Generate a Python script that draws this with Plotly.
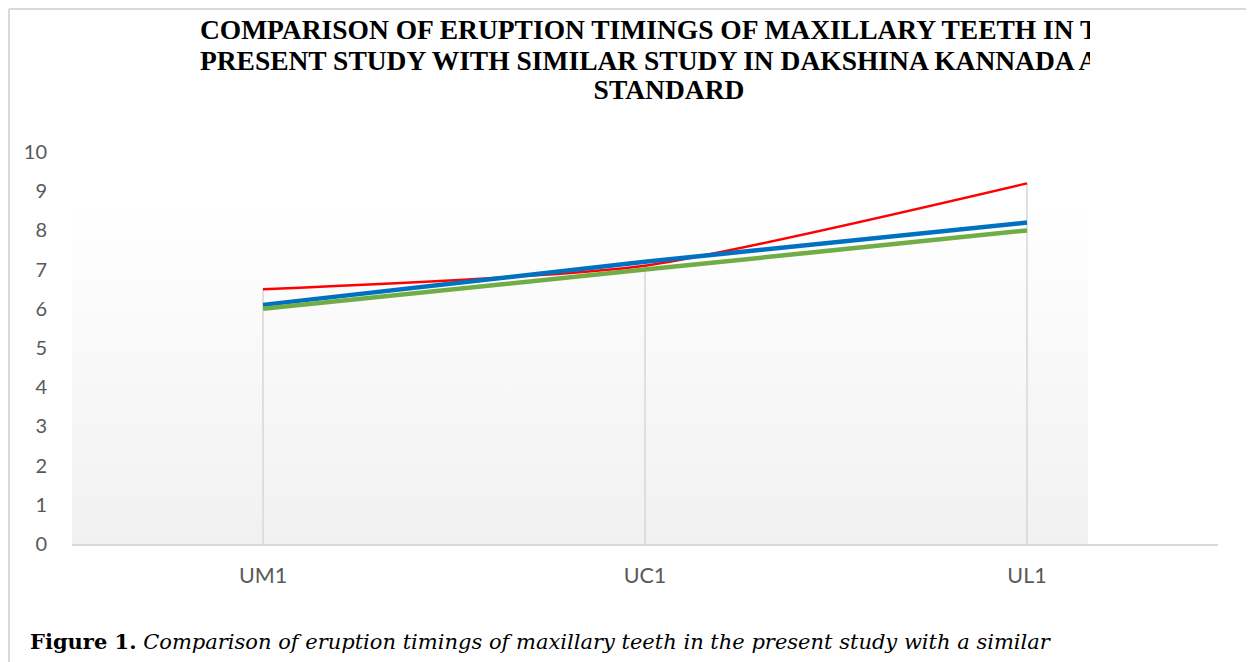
import plotly.graph_objects as go

W, H = 1254, 662
OFF = 8  # page body margin offset

# ---- data ----
categories = ["UM1", "UC1", "UL1"]
red_values = [6.5, 7.1, 9.2]
blue_values = [6.1, 7.2, 8.2]
green_values = [6.0, 7.0, 8.0]
y_ticks = list(range(0, 11))

title_lines = [
    "COMPARISON OF ERUPTION TIMINGS OF MAXILLARY TEETH IN THE",
    "PRESENT STUDY WITH SIMILAR STUDY IN DAKSHINA KANNADA AND",
    "STANDARD",
]
caption_bold = "Figure 1."
caption_italic = "Comparison of eruption timings of maxillary teeth in the present study with a similar"

def px(v):
    return (v - OFF) / W

def py(v):
    return 1 - (v - OFF) / H

fig = go.Figure()

# Base pixel-space subplot (xy): gradient panel background
fig.add_trace(go.Scatter(
    x=[72, 1088, 1088, 72, 72], y=[200, 200, 544, 544, 200],
    mode="lines", line=dict(width=0), fill="toself",
    fillgradient=dict(type="vertical", colorscale=[[0, "#f1f1f1"], [1, "#ffffff"]]),
    hoverinfo="skip", showlegend=False, xaxis="x", yaxis="y",
))

# Drop lines from the highest value at each category
maxima = [max(a, b, c) for a, b, c in zip(red_values, blue_values, green_values)]
dx, dy = [], []
for c, m in zip(categories, maxima):
    dx += [c, c, None]
    dy += [0, m, None]
fig.add_trace(go.Scatter(x=dx, y=dy, mode="lines", line=dict(color="#d9d9d9", width=1.6),
                         hoverinfo="skip", showlegend=False, xaxis="x2", yaxis="y2"))

fig.add_trace(go.Scatter(x=categories, y=red_values, mode="lines",
                         line=dict(color="#ff0000", width=2.5, shape="spline", smoothing=0.6),
                         showlegend=False, xaxis="x2", yaxis="y2"))
fig.add_trace(go.Scatter(x=categories, y=blue_values, mode="lines",
                         line=dict(color="#0070c0", width=4.5, shape="spline", smoothing=0.6),
                         showlegend=False, xaxis="x2", yaxis="y2"))
fig.add_trace(go.Scatter(x=categories, y=green_values, mode="lines",
                         line=dict(color="#70ad47", width=4.5, shape="spline", smoothing=0.6),
                         showlegend=False, xaxis="x2", yaxis="y2"))

# Title (clipped at right edge like the reference)
fig.add_trace(go.Scatter(
    x=[669, 669, 669], y=[32, 63, 92], text=title_lines, mode="text",
    textposition="middle center", cliponaxis=True,
    textfont=dict(family="Liberation Serif", size=27.5, color="#000000", weight="bold"),
    hoverinfo="skip", showlegend=False, xaxis="x3", yaxis="y3",
))

hidden = dict(visible=False, fixedrange=True, automargin=False)
fig.update_layout(
    template="none",
    width=W, height=H,
    autosize=False,
    showlegend=False,
    margin=dict(l=0, r=0, t=0, b=0, pad=0, autoexpand=False),
    paper_bgcolor="#ffffff", plot_bgcolor="rgba(0,0,0,0)",
    xaxis=dict(domain=[0, 1], range=[OFF, W + OFF], **hidden),
    yaxis=dict(domain=[0, 1], range=[H + OFF, OFF], **hidden),
    xaxis2=dict(domain=[px(72), px(1218)], anchor="y2", type="category",
                categoryorder="array", categoryarray=categories, range=[-0.5, 2.5],
                showline=True, linecolor="#d9d9d9", linewidth=1.6, showgrid=False,
                zeroline=False, ticks="", ticklabelstandoff=11, automargin=False,
                tickfont=dict(family="Lato", size=21.5, color="#595959")),
    yaxis2=dict(domain=[py(544), py(152)], anchor="x2", range=[0, 10],
                tickvals=y_ticks, showline=False, showgrid=False, zeroline=False,
                ticks="", ticklabelstandoff=24, automargin=False,
                tickfont=dict(family="Lato", size=20, color="#595959")),
    xaxis3=dict(domain=[0, px(1090)], range=[OFF, 1090], anchor="y3", **hidden),
    yaxis3=dict(domain=[py(110), 1], range=[110, OFF], anchor="x3", **hidden),
    shapes=[
        dict(type="line", xref="paper", yref="paper", x0=px(9), x1=px(9), y0=py(9), y1=0,
             line=dict(color="#d9d9d9", width=2)),
        dict(type="line", xref="paper", yref="paper", x0=px(1248), x1=px(1248), y0=py(9), y1=0,
             line=dict(color="#d9d9d9", width=2)),
        dict(type="line", xref="paper", yref="paper", x0=px(9), x1=px(1248), y0=py(9), y1=py(9),
             line=dict(color="#d9d9d9", width=2)),
    ],
    annotations=[
        dict(xref="paper", yref="paper", x=px(28), y=py(641), xanchor="left", yanchor="middle",
             showarrow=False,
             text=f"<b>{caption_bold}</b> <i>{caption_italic}</i>",
             font=dict(family="DejaVu Serif", size=21, color="#000000")),
    ],
)

fig.write_html("out.html")
